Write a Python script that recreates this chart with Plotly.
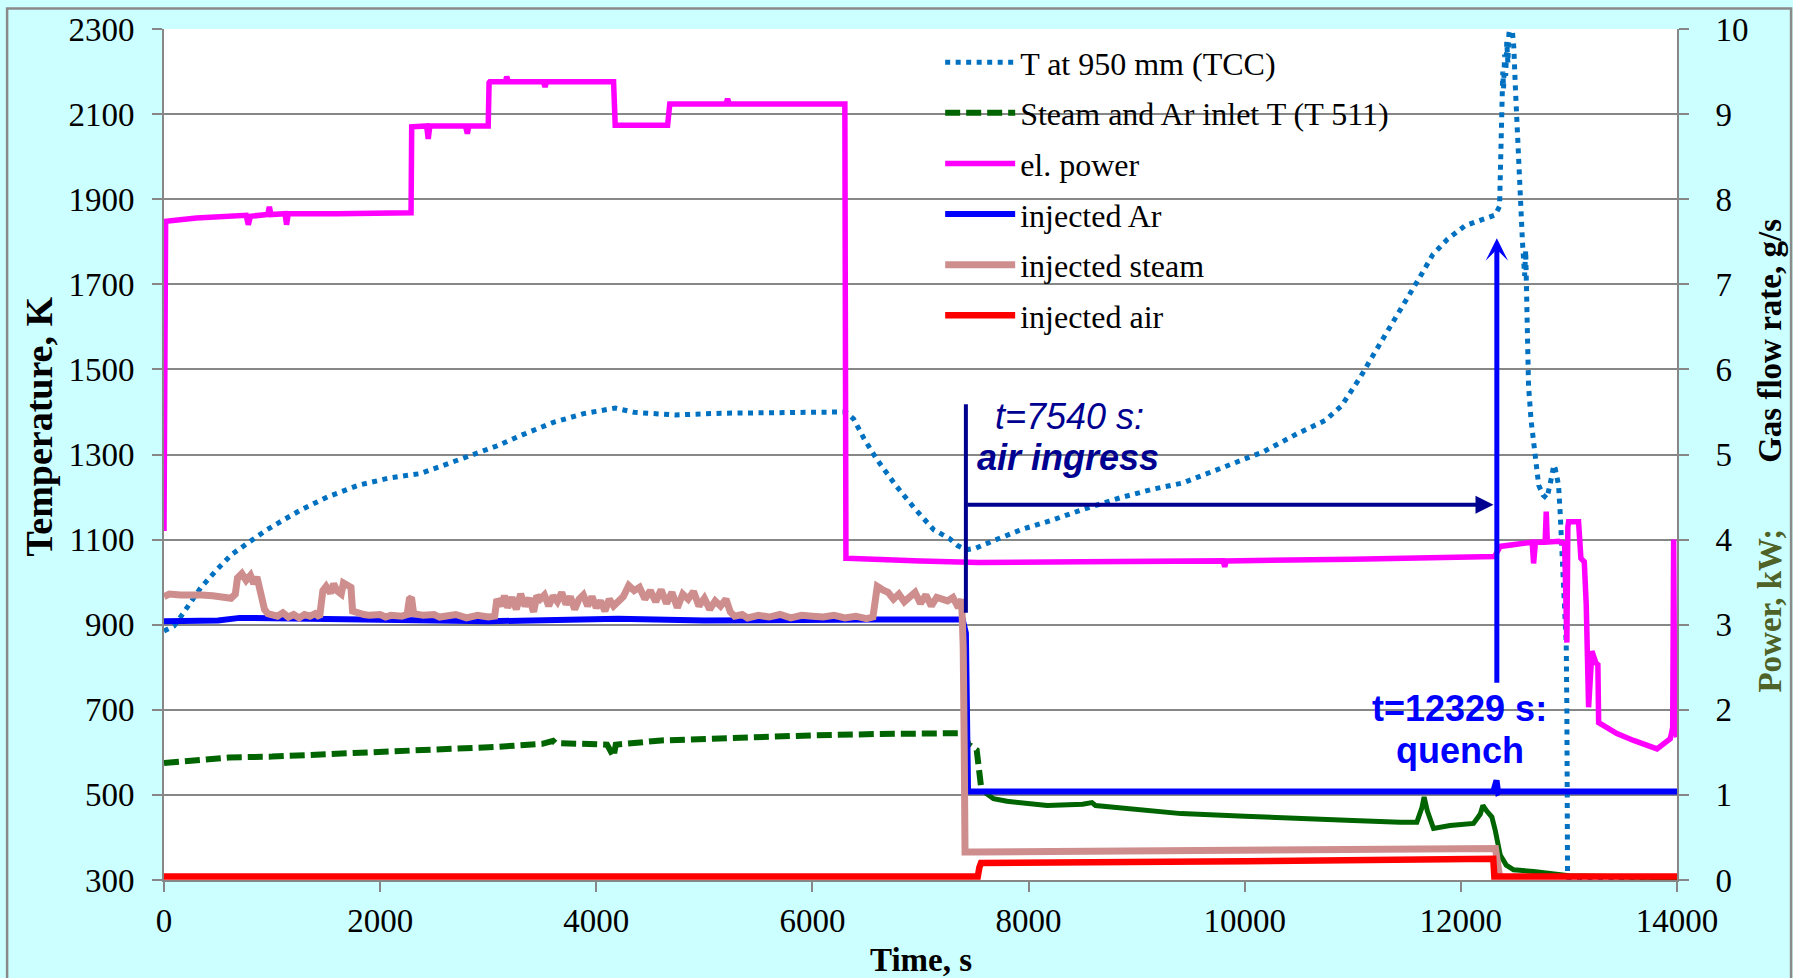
import plotly.graph_objects as go

# ---- TCC temperature at 950 mm (K) ----
tcc_t = [0, 92, 158, 220, 338, 480, 621, 787, 952, 1117, 1283, 1519, 1802, 2086, 2369, 2558,
         2841, 3078, 3314, 3597, 3881, 4100, 4174, 4353, 4731, 5156, 5770, 6308, 6380, 6478,
         6592, 6769, 6946, 7123, 7265, 7343, 7424, 7513, 7690, 7938, 8221, 8504, 8858, 9142,
         9425, 9637, 9885, 10169, 10487, 10744, 10898, 11006, 11068, 11176, 11299, 11407, 11515,
         11630, 11741, 11876, 12040, 12225, 12318, 12358, 12365, 12372, 12380, 12388, 12395,
         12405, 12415, 12425, 12435, 12445, 12460, 12475, 12490, 12505, 12520, 12535, 12549,
         12560, 12570, 12580, 12590, 12600, 12611, 12618, 12626, 12650, 12673, 12700, 12720,
         12760, 12796, 12830, 12860, 12873, 12890, 12904, 12920, 12935, 12950, 12966, 12975,
         12981, 12984, 12987, 13000, 14000]
tcc_v = [885, 897, 920, 943, 986, 1027, 1064, 1094, 1123, 1148, 1172, 1201, 1228, 1245, 1255, 1272,
         1297, 1320, 1346, 1375, 1396, 1405, 1409, 1399, 1393, 1397, 1399, 1400, 1384, 1337,
         1290, 1228, 1173, 1123, 1103, 1086, 1076, 1080, 1099, 1124, 1146, 1171, 1199, 1218,
         1233, 1254, 1279, 1306, 1349, 1380, 1415, 1454, 1481, 1528, 1579, 1626, 1672,
         1721, 1770, 1806, 1838, 1856, 1863, 1883, 1950, 2040, 2120, 2200, 2160,
         2240, 2190, 2270, 2220, 2290, 2310, 2300, 2257, 2160, 2060, 1960, 1898,
         1850, 1800, 1760, 1720, 1780, 1680, 1580, 1462, 1380, 1329, 1285, 1228,
         1205, 1197, 1235, 1275, 1267, 1240, 1228, 1158, 1072, 994, 932, 854,
         700, 500, 320, 303, 302]

# ---- Steam and Ar inlet temperature T 511 (K) ----
inlet_t = [0, 300, 600, 1000, 1500, 2020, 2500, 3083, 3500, 3600, 3620, 4032, 4100, 4160, 4180,
           4600, 5283, 6000, 6600, 7000, 7350, 7420, 7440, 7520, 7535, 7560, 7600]
inlet_v = [575, 580, 588, 590, 595, 600, 606, 613, 620, 627, 622, 621, 618, 590, 618,
           628, 635, 640, 643, 645, 645, 640, 620, 605, 560, 520, 505]
inlet2_t = [7600, 7675, 7800, 8000, 8172, 8500, 8586, 8620, 9000, 9413, 10000, 10488, 11000,
            11438, 11593, 11640, 11660, 11690, 11747, 11900, 12117, 12180, 12204, 12240, 12287,
            12318, 12333, 12364, 12420, 12488, 12673, 13000, 14000]
inlet2_v = [505, 491, 485, 480, 475, 478, 482, 475, 465, 456, 450, 444, 440,
            436, 436, 470, 495, 462, 421, 428, 433, 455, 475, 462, 448,
            417, 394, 359, 335, 324, 320, 310, 305]

# ---- electrical power (kW) ----
pw_t = [0, 10, 15, 300, 700, 760, 780, 800, 960, 975, 990, 1120, 1134, 1150, 1600, 2000, 2286,
        2292, 2300, 2430, 2445, 2460, 2790, 2807, 2820, 3000, 3008, 3015, 3160, 3171, 3185, 3510,
        3526, 3540, 4160, 4165, 4175, 4660, 4670, 4680, 5200, 5215, 5230, 6300, 6310, 6320, 7000,
        7540, 8500, 9800, 9815, 9830, 11000, 12300, 12312, 12364, 12600, 12660, 12673, 12690,
        12780, 12790, 12800, 12890, 12904, 12960, 12981, 12990, 12997, 13089, 13111, 13142,
        13160, 13182, 13213, 13250, 13268, 13275, 13444, 13598, 13815, 13938, 13960, 13969,
        13980, 14000]
pw_v = [4.10, 7.70, 7.74, 7.78, 7.80, 7.81, 7.70, 7.80, 7.82, 7.91, 7.82, 7.83, 7.70, 7.83, 7.83,
        7.84, 7.84, 8.85, 8.85, 8.86, 8.71, 8.86, 8.86, 8.77, 8.86, 8.86, 9.37, 9.38, 9.38, 9.44,
        9.38, 9.38, 9.32, 9.38, 9.38, 8.87, 8.87, 8.87, 9.12, 9.12, 9.12, 9.18, 9.12, 9.12, 3.78,
        3.78, 3.75, 3.73, 3.74, 3.75, 3.68, 3.75, 3.77, 3.80, 3.80, 3.92, 3.95, 3.97, 3.72, 3.97,
        3.97, 4.33, 3.97, 3.98, 3.98, 3.95, 2.79, 4.15, 4.21, 4.21, 3.78, 3.74,
        3.24, 2.03, 2.69, 2.55, 2.53, 1.85, 1.72, 1.64, 1.54, 1.66, 1.79, 4.00,
        1.75, 1.68]

# ---- injected Ar (g/s) ----
ar_t = [0, 500, 700, 1500, 2300, 3000, 4200, 5000, 6600, 7390, 7420, 7440, 9000, 11000,
        12300, 12330, 12345, 12360, 13500, 14000]
ar_v = [3.04, 3.05, 3.08, 3.06, 3.05, 3.04, 3.07, 3.05, 3.06, 3.06, 2.90, 1.04, 1.04, 1.05,
        1.04, 1.17, 1.03, 1.04, 1.04, 1.04]

# ---- injected steam (g/s) ----
steam_t = [0, 50, 150, 250, 350, 450, 550, 620, 660, 680, 720, 760, 800, 830, 860, 880, 900, 930,
           960, 1000, 1050, 1100, 1150, 1200, 1250, 1300, 1350, 1400, 1440, 1470, 1500, 1540,
           1570, 1600, 1640, 1660, 1700, 1730, 1745, 1780, 1850, 1900, 2000, 2050, 2100, 2200,
           2250, 2270, 2290, 2310, 2400, 2500, 2550, 2600, 2700, 2800, 2900, 3000, 3060, 3080,
           3120, 3150, 3180, 3220, 3260, 3300, 3340, 3380, 3420, 3450, 3480, 3520, 3560, 3600,
           3640, 3680, 3720, 3760, 3800, 3840, 3880, 3920, 3960, 4000, 4040, 4080, 4120, 4160,
           4200, 4250, 4300, 4350, 4400, 4450, 4500, 4550, 4600, 4650, 4700, 4750, 4800, 4850,
           4900, 4950, 5000, 5050, 5100, 5150, 5200, 5240, 5280, 5350, 5400, 5500, 5600, 5700,
           5800, 5900, 6000, 6100, 6200, 6300, 6400, 6500, 6560, 6600, 6650, 6700, 6750, 6800,
           6850, 6900, 6950, 7000, 7050, 7100, 7150, 7200, 7250, 7300, 7350, 7380, 7395, 7405,
           7412, 7500, 9000, 10500, 12320, 12340, 12360]
steam_v = [3.33, 3.36, 3.35, 3.36, 3.35, 3.34, 3.32, 3.31, 3.36, 3.55, 3.60, 3.52, 3.58, 3.48,
           3.56, 3.45, 3.30, 3.18, 3.13, 3.12, 3.10, 3.14, 3.09, 3.12, 3.08, 3.12, 3.10, 3.13,
           3.09, 3.40, 3.45, 3.37, 3.48, 3.40, 3.36, 3.49, 3.47, 3.44, 3.16, 3.14, 3.12, 3.11,
           3.12, 3.09, 3.11, 3.10, 3.12, 3.30, 3.32, 3.13, 3.11, 3.12, 3.09, 3.10, 3.12, 3.08,
           3.11, 3.09, 3.10, 3.30, 3.22, 3.34, 3.20, 3.32, 3.18, 3.36, 3.22, 3.31, 3.15, 3.34,
           3.30, 3.35, 3.22, 3.34, 3.27, 3.38, 3.24, 3.33, 3.18, 3.30, 3.35, 3.22, 3.33, 3.20,
           3.28, 3.16, 3.30, 3.22, 3.27, 3.33, 3.46, 3.40, 3.44, 3.30, 3.40, 3.27, 3.41, 3.25,
           3.38, 3.20, 3.36, 3.30, 3.39, 3.22, 3.31, 3.18, 3.28, 3.22, 3.30, 3.15, 3.10, 3.12,
           3.08, 3.11, 3.09, 3.12, 3.08, 3.11, 3.10, 3.09, 3.11, 3.08, 3.10, 3.07, 3.09, 3.45,
           3.41, 3.38, 3.30, 3.36, 3.27, 3.34, 3.38, 3.25, 3.35, 3.22, 3.32, 3.30, 3.28, 3.32,
           3.20, 3.30, 2.75, 1.50, 0.33, 0.33, 0.34, 0.35, 0.37, 0.20, 0.03]

# ---- injected air (g/s) ----
air_t = [0, 7530, 7545, 7560, 10000, 12300, 12310, 14000]
air_v = [0.04, 0.04, 0.15, 0.20, 0.22, 0.25, 0.04, 0.04]

# axis ticks
x_ticks = [0, 2000, 4000, 6000, 8000, 10000, 12000, 14000]
x_tick_text = ["0", "2000", "4000", "6000", "8000", "10000", "12000", "14000"]
t_ticks = [300, 500, 700, 900, 1100, 1300, 1500, 1700, 1900, 2100, 2300]
f_ticks = list(range(0, 11))

SERIF = "Liberation Serif, Times New Roman, serif"
SANS = "Liberation Sans, Arial, sans-serif"
GRID = "#878787"

fig = go.Figure()
fig.add_trace(go.Scatter(x=tcc_t, y=tcc_v, mode="lines", name="T at 950 mm (TCC)",
                         legendgroup="g1", yaxis="y",
                         line=dict(color="#0070C0", width=5, dash="5px,5.5px")))
fig.add_trace(go.Scatter(x=inlet_t, y=inlet_v, mode="lines", name="Steam and Ar inlet T (T 511)",
                         legendgroup="g2", yaxis="y",
                         line=dict(color="#006400", width=6, dash="15px,6px")))
fig.add_trace(go.Scatter(x=inlet2_t, y=inlet2_v, mode="lines", showlegend=False,
                         legendgroup="g2", yaxis="y",
                         line=dict(color="#006400", width=5)))
fig.add_trace(go.Scatter(x=pw_t, y=pw_v, mode="lines", name="el. power", legendgroup="g3",
                         yaxis="y2", line=dict(color="#FF00FF", width=5.5)))
fig.add_trace(go.Scatter(x=ar_t, y=ar_v, mode="lines", name="injected Ar", legendgroup="g4",
                         yaxis="y2", line=dict(color="#0000FF", width=6)))
fig.add_trace(go.Scatter(x=steam_t, y=steam_v, mode="lines", name="injected steam",
                         legendgroup="g5", yaxis="y2", line=dict(color="#CF8E8E", width=7)))
fig.add_trace(go.Scatter(x=air_t, y=air_v, mode="lines", name="injected air", legendgroup="g6",
                         yaxis="y2", line=dict(color="#FF0000", width=6.5)))

NAVY = "#000090"
BLUE = "#0000FF"

shapes = [
    # outer frame of the chart area
    dict(type="rect", xref="paper", yref="paper", x0=-0.1037, x1=1.0754, y0=-0.14, y1=1.0242,
         line=dict(color="#8a8a8a", width=2.5), layer="below"),
    # air ingress marker line
    dict(type="line", xref="x", yref="y2", x0=7420, x1=7420, y0=3.14, y1=5.59,
         line=dict(color=NAVY, width=4)),
]

annotations = [
    # air ingress: horizontal arrow to the quench time
    dict(x=12302, y=4.41, ax=7420, ay=4.41, xref="x", yref="y2", axref="x", ayref="y2",
         showarrow=True, arrowhead=2, arrowsize=0.9, arrowwidth=4, arrowcolor=NAVY,
         standoff=0, text=""),
    # quench: vertical arrow
    dict(x=12333, y=7.54, ax=12333, ay=2.30, xref="x", yref="y2", axref="x", ayref="y2",
         showarrow=True, arrowhead=3, arrowsize=0.75, arrowwidth=5, arrowcolor=BLUE,
         standoff=0, text=""),
    dict(x=7670, y=5.45, xref="x", yref="y2", xanchor="left", yanchor="middle",
         text="<i>t=7540 s:</i>", showarrow=False, font=dict(family=SANS, size=36, color=NAVY)),
    dict(x=7504, y=4.96, xref="x", yref="y2", xanchor="left", yanchor="middle",
         text="<b><i>air ingress</i></b>", showarrow=False,
         font=dict(family=SANS, size=36, color=NAVY)),
    dict(x=11985, y=2.02, xref="x", yref="y2", xanchor="center", yanchor="middle",
         text="<b>t=12329 s:</b>", showarrow=False, font=dict(family=SANS, size=36, color=BLUE)),
    dict(x=11995, y=1.52, xref="x", yref="y2", xanchor="center", yanchor="middle",
         text="<b>quench</b>", showarrow=False, font=dict(family=SANS, size=36, color=BLUE)),
    # axis titles
    dict(x=0.5, y=-0.094, xref="paper", yref="paper", xanchor="center", yanchor="middle",
         text="<b>Time, s</b>", showarrow=False, font=dict(family=SERIF, size=33, color="black")),
    dict(x=-0.0825, y=0.533, xref="paper", yref="paper", xanchor="center", yanchor="middle",
         text="<b>Temperature, K</b>", textangle=-90, showarrow=False,
         font=dict(family=SERIF, size=38, color="black")),
    dict(x=1.0617, y=0.634, xref="paper", yref="paper", xanchor="center", yanchor="middle",
         text="<b>Gas flow rate, g/s</b>", textangle=-90, showarrow=False,
         font=dict(family=SERIF, size=33, color="black")),
    dict(x=1.0617, y=0.317, xref="paper", yref="paper", xanchor="center", yanchor="middle",
         text="<b>Power, kW;</b>", textangle=-90, showarrow=False,
         font=dict(family=SERIF, size=33, color="#4F6228")),
]

axis_common = dict(showline=True, linecolor=GRID, linewidth=2, ticks="outside", ticklen=10,
                   tickwidth=2, tickcolor=GRID, zeroline=False,
                   tickfont=dict(family=SERIF, size=33, color="black"))

fig.update_layout(
    width=1793, height=978, autosize=False,
    margin=dict(l=164, r=116, t=25, b=98, pad=0),
    paper_bgcolor="#CCFFFF", plot_bgcolor="white",
    showlegend=True,
    legend=dict(x=0.513, y=0.993, xanchor="left", yanchor="top", bgcolor="rgba(0,0,0,0)",
                font=dict(family=SERIF, size=32, color="black"), itemwidth=70,
                tracegroupgap=6, traceorder="grouped"),
    xaxis=dict(range=[0, 14000], tickvals=x_ticks, ticktext=x_tick_text, showgrid=False,
               ticklabelstandoff=0, **axis_common),
    yaxis=dict(range=[300, 2300], tickvals=t_ticks, showgrid=True, gridcolor=GRID,
               gridwidth=2, ticklabelstandoff=11, **axis_common),
    yaxis2=dict(range=[0, 10], tickvals=f_ticks, overlaying="y", side="right", showgrid=False,
                ticklabelstandoff=20, **axis_common),
    shapes=shapes,
    annotations=annotations,
)

fig.write_html("out.html", post_script="document.body.style.margin='0';")
